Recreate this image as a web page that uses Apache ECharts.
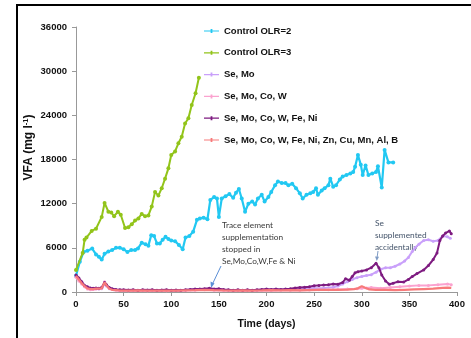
<!DOCTYPE html>
<html>
<head>
<meta charset="utf-8">
<script src="https://cdn.jsdelivr.net/npm/echarts@6/dist/echarts.min.js"></script>
<style>html,body{margin:0;padding:0;background:#fff}#c{width:471px;height:338px}</style>
</head>
<body>
<div id="c"></div>
<script>
// ---- data (days, VFA mg/l) ----
const seriesNames = ['Control OLR=2','Control OLR=3','Se, Mo','Se, Mo, Co, W','Se, Mo, Co, W, Fe, Ni','Se, Mo, Co, W, Fe, Ni, Zn, Cu, Mn, Al, B'];
const xTicks = [0,50,100,150,200,250,300,350,400];
const yTicks = [0,6000,12000,18000,24000,30000,36000];

const ctrl2Days = [0,4,8,12,17,21,24,27,30,34,38,42,46,50,54,58,62,65,69,73,76,79,82,85,88,91,94,97,100,104,108,112,115,119,123,127,130,134,138,141,145,148,150,153,157,161,165,168,171,174,177.5,181,185,188,191,195,198,202,205,209,212,216,220,223,227,231,235,238,242,246,249,252,254,258,261,265,267,270,273,277,280,284,288,291,293,296,299,301,304,307,311,315,317,321,324,328,333];
const ctrl2Vals = [2200,4100,5450,5600,5900,5100,4800,4400,5200,5500,5700,6000,6000,5800,5450,5700,5700,5900,6700,6500,6300,7700,7600,6600,6600,7100,7500,7200,7000,6900,6400,5800,7400,7600,8200,9800,10000,10100,9900,12500,12900,12700,10200,12700,13000,13300,12800,13500,14000,12700,10900,12000,12300,11900,12700,13200,12300,12900,13600,14500,15000,14800,14800,14500,14700,14100,13400,12700,13200,13400,13600,14100,13200,13800,14100,14500,15400,14300,14500,15300,15700,15900,16100,16300,17000,18600,17300,15900,17200,15900,16100,16300,17100,14200,19300,17600,17600];

const ctrl3Days = [0,7,9,11,16.5,21,27,30,34,37,40,44,47,51.5,55,58.5,62,65.5,69,72.5,76,79.5,83,86.5,90,93.5,97,100,104,107.5,111,114.5,118,121.5,125.5,129];
const ctrl3Vals = [3000,5300,7100,7400,8300,8600,10200,12100,10900,10800,10300,10900,10500,8700,8800,9200,9700,10000,10600,10300,10400,11600,13600,13100,14100,15400,16800,18600,19100,20200,21100,22900,23600,25400,27000,29100];

const seMoDays = [0,3,6,9,12,15,18,21,24,27,30,32,35,40,45,50,60,70,80,90,100,110,120,130,140,150,160,170,180,190,200,210,220,230,240,250,260,270,275,280,285,290,295,300,305,310,315,320,325,330,335,340,345,349,353,356,360,365,370,375,380,385,390,393];
const seMoVals = [2100,1800,1300,800,600,450,400,450,400,450,1100,800,450,300,250,200,250,200,250,200,250,200,300,350,400,300,250,200,250,250,300,300,350,400,450,500,550,650,800,1100,1400,1700,1950,2100,2250,2350,2700,3100,3300,3300,3500,3800,4200,4700,5500,6000,6500,7000,7100,6900,7000,7600,7500,7300];

const seMoCoWDays = [0,3,6,9,12,15,18,21,24,27,30,32,35,38,42,46,55,65,75,85,95,105,115,125,135,145,155,165,175,185,195,205,215,225,235,245,255,265,275,285,295,300,305,310,320,330,340,350,360,370,380,390,394];
const seMoCoWVals = [2000,1500,1100,700,400,300,350,400,450,500,1400,900,500,350,250,200,180,200,170,200,180,200,220,250,300,250,200,220,200,220,250,220,250,230,250,280,300,300,350,400,450,500,550,600,500,600,700,800,900,900,1000,1100,1000];

const feNiDays = [0,3,6,9,12,15,18,21,24,27,30,32,35,38,42,46,50,55,60,65,70,75,80,85,90,95,100,105,110,115,120,125,130,135,140,145,150,155,160,165,170,175,180,185,190,195,200,205,210,215,220,225,230,235,240,245,250,255,260,265,270,275,280,283,287,290,293,296,300,305,310,315,318,321,325,329,333,338,344,349,353,358,365,370,375,379,382,385,388,392,394];
const feNiVals = [2300,1900,1400,900,700,550,500,550,500,600,1300,1000,600,450,350,300,300,280,300,250,300,280,300,250,280,300,250,280,250,300,350,400,400,450,500,400,450,350,300,250,300,250,300,250,300,350,400,350,400,350,400,450,550,600,650,700,850,900,950,1000,1100,1050,1300,1800,1600,2100,2600,2750,2850,3000,3300,3900,3300,2300,1500,1050,1200,1400,1350,1700,2100,2500,3000,3600,4400,5300,7000,7600,8000,8300,7900];

const allDays = [0,3,6,9,12,15,18,21,24,27,30,32,35,38,42,46,55,65,75,85,95,105,115,125,135,145,155,165,175,185,195,205,215,225,235,245,255,265,275,285,292,296,300,303,308,315,325,335,345,355,365,375,385,390,394];
const allVals = [2200,1700,1200,800,500,400,400,450,450,500,1300,900,450,300,250,200,200,220,200,180,200,180,220,250,300,250,220,200,230,200,220,250,230,250,220,250,280,280,300,320,400,500,800,600,350,300,300,250,300,350,400,450,550,600,550];

const colors = ['#22C8F2','#92C41A','#C9A0FA','#FBA2CF','#7E1B80','#F77A7A'];

function pairs(d, v) { return d.map((x, i) => [x, v[i]]); }

const bfont = '"Liberation Sans",Arial,sans-serif';
const afont = 'Lato,"Liberation Sans",sans-serif';
const chart = echarts.init(document.getElementById('c'), null, {renderer: 'canvas'});

const dataSets = [
  [ctrl2Days, ctrl2Vals, 4, 'circle', 2.2],
  [ctrl3Days, ctrl3Vals, 4, 'circle', 2],
  [seMoDays, seMoVals, 3, 'circle', 2],
  [seMoCoWDays, seMoCoWVals, 3, 'circle', 2],
  [feNiDays, feNiVals, 3, 'circle', 2],
  [allDays, allVals, 2, 'none', 2.2]
];

const series = dataSets.map((s, i) => ({
  name: seriesNames[i],
  type: 'line',
  data: pairs(s[0], s[1]),
  symbol: s[3],
  symbolSize: s[2],
  showSymbol: s[3] !== 'none',
  lineStyle: {width: s[4], color: colors[i]},
  itemStyle: {color: colors[i]},
  animation: false,
  z: 2 + i
}));

const legendIcon = 'path://M0,4.4 L15,4.4 L15,5.6 L0,5.6 Z M6.6,3 L8.4,3 L8.4,7 L6.6,7 Z';

chart.setOption({
  animation: false,
  backgroundColor: '#fff',
  grid: {left: 76, right: 14, top: 27, bottom: 46},
  legend: {
    orient: 'vertical', left: 199, top: 21,
    itemWidth: 15, itemHeight: 10, itemGap: 11.8,
    textStyle: {fontFamily: bfont, fontWeight: 'bold', fontSize: 9.5, color: '#111', lineHeight: 10},
    data: seriesNames.map(n => ({name: n, icon: legendIcon}))
  },
  xAxis: {
    type: 'value', min: 0, max: 400, interval: 50,
    name: 'Time (days)', nameLocation: 'middle', nameGap: 27,
    nameTextStyle: {fontFamily: bfont, fontWeight: 'bold', fontSize: 10.5, color: '#111'},
    axisLine: {show: true, lineStyle: {color: '#999', width: 1}},
    axisTick: {show: true, length: 4, lineStyle: {color: '#999'}},
    splitLine: {show: false},
    axisLabel: {margin: 7, fontFamily: bfont, fontWeight: 'bold', fontSize: 9.5, color: '#111',
      formatter: v => xTicks.indexOf(v) >= 0 ? String(v) : ''}
  },
  yAxis: {
    type: 'value', min: 0, max: 36000, interval: 6000,
    name: 'VFA (mg l{sup|-1})', nameLocation: 'middle', nameGap: 40, nameRotate: 90, nameMoveOverlap: false,
    nameTextStyle: {fontFamily: bfont, fontWeight: 'bold', fontSize: 12, color: '#111', padding: [0,0,0,24],
      rich: {sup: {fontFamily: bfont, fontWeight: 'bold', fontSize: 7.5, color: '#111', verticalAlign: 'top', padding: [0,0,6,0]}}},
    axisLine: {show: true, lineStyle: {color: '#999', width: 1}},
    axisTick: {show: true, length: 4, lineStyle: {color: '#999'}},
    splitLine: {show: false},
    axisLabel: {margin: 9, fontFamily: bfont, fontWeight: 'bold', fontSize: 9.5, color: '#111',
      formatter: v => yTicks.indexOf(v) >= 0 ? String(v) : ''}
  },
  series: series,
  graphic: [
    {type: 'rect', shape: {x: 17, y: 5, width: 470, height: 350}, style: {fill: 'none', stroke: '#000', lineWidth: 2}, silent: true},
    {type: 'text', left: 222, top: 219, style: {text: 'Trace element\nsupplementation\nstopped in\nSe,Mo,Co,W,Fe & Ni', fontFamily: afont, fontSize: 8.3, lineHeight: 12, fill: '#3a3a3a'}},
    {type: 'line', shape: {x1: 221, y1: 266, x2: 212, y2: 285}, style: {stroke: '#5B8FD6', lineWidth: 1}},
    {type: 'polygon', shape: {points: [[211, 288], [210.5, 281.5], [214.5, 283.5]]}, style: {fill: '#5B8FD6'}},
    {type: 'text', left: 375, top: 217, style: {text: 'Se\nsupplemented\naccidentally', fontFamily: afont, fontSize: 8.3, lineHeight: 12, fill: '#44546A'}},
    {type: 'line', shape: {x1: 378, y1: 251, x2: 377, y2: 258}, style: {stroke: '#7f9bc4', lineWidth: 1}},
    {type: 'polygon', shape: {points: [[376.8, 261], [375, 256.5], [379, 256.8]]}, style: {fill: '#7f9bc4'}}
  ]
});
</script>
</body>
</html>
